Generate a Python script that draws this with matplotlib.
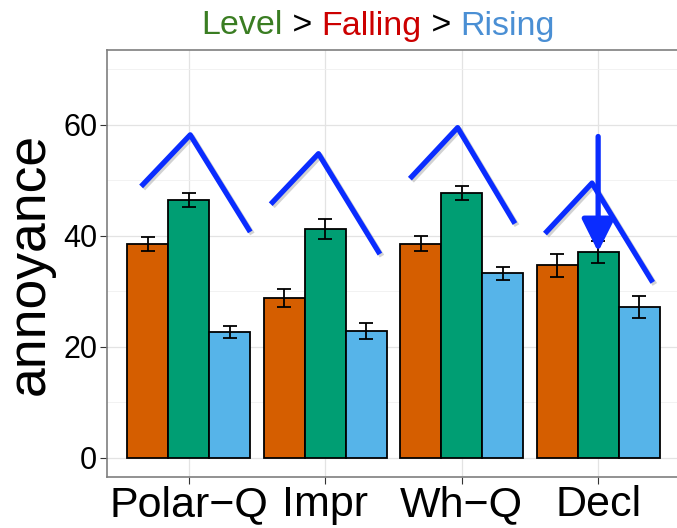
import numpy as np
import matplotlib
matplotlib.use('Agg')
from matplotlib import pyplot as plt
from matplotlib import patheffects as pe

plt.rcParams['font.family'] = ['Liberation Sans', 'DejaVu Sans']

categories = ['Polar\u2212Q', 'Impr', 'Wh\u2212Q', 'Decl']
series = ['Falling', 'Level', 'Rising']
means = {
    'Falling': [38.5, 28.8, 38.6, 34.7],
    'Level': [46.4, 41.3, 47.7, 37.1],
    'Rising': [22.6, 22.8, 33.2, 27.1],
}
errors = {
    'Falling': [1.2, 1.6, 1.35, 2.1],
    'Level': [1.25, 1.8, 1.3, 2.0],
    'Rising': [1.1, 1.4, 1.15, 2.0],
}
colors = {'Falling': '#D55E00', 'Level': '#009E73', 'Rising': '#56B4E9'}

# hand-drawn contour sketches over each group: (x offset, y) for start, peak, end
contour_dx = [[-0.35, 0.01, 0.45], [-0.40, -0.05, 0.40],
              [-0.38, -0.03, 0.39], [-0.39, -0.045, 0.40]]
contour_y = [[48.9, 58.2, 40.7], [45.7, 54.8, 36.7],
             [50.3, 59.5, 42.2], [40.4, 49.5, 31.6]]
arrow_top = 57.9

fig = plt.figure(figsize=(6.77, 5.28), dpi=100)
ax = fig.add_axes([107 / 677, 51 / 528, 573 / 677, 427 / 528])

x = np.arange(len(categories))
width = 0.3
for i, s in enumerate(series):
    pos = x + (i - 1) * width
    ax.bar(pos, means[s], width, color=colors[s], edgecolor='black',
           linewidth=1.3, zorder=3)
    ax.errorbar(pos, means[s], yerr=errors[s], fmt='none', ecolor='black',
                elinewidth=1.3, capsize=5, capthick=1.3, zorder=4)

blue = '#0a2cff'
shadow = [pe.SimpleLineShadow(offset=(1.5, -1.5), shadow_color='gray', alpha=0.35),
          pe.Normal()]
for g in range(len(categories)):
    ax.plot(g + np.array(contour_dx[g]), contour_y[g], color=blue,
            linewidth=3.8, solid_capstyle='butt', zorder=5, path_effects=shadow)

# arrow pointing at the Level bar of the last group
ax.annotate('', xy=(3, means['Level'][3]), xytext=(3, arrow_top),
            arrowprops=dict(arrowstyle='-|>,head_length=2.0,head_width=1.0',
                            color=blue, lw=3.8, shrinkA=0, shrinkB=0,
                            mutation_scale=10),
            zorder=6)

ax.set_xlim(-0.6, 3.6)
ax.set_ylim(-3.5, 73.5)
ax.set_xticks(x)
ax.set_xticklabels(categories, fontsize=31)
ax.set_yticks([0, 20, 40, 60])
ax.set_yticks([10, 30, 50, 70], minor=True)
ax.tick_params(axis='y', labelsize=22, length=5, color='#333333', pad=2)
ax.tick_params(axis='x', length=5, color='#333333', pad=1)
ax.tick_params(which='minor', length=0)
ax.grid(True, which='major', color='#e3e3e3', linewidth=0.9, zorder=0)
ax.grid(True, which='minor', axis='y', color='#f0f0f0', linewidth=0.6, zorder=0)
ax.set_axisbelow(True)
for sp in ax.spines.values():
    sp.set_color('#7f7f7f')
    sp.set_linewidth(1.2)
ax.set_ylabel('annoyance', fontsize=38.5)
ax.yaxis.set_label_coords(-52 / 573, 0.5)

# coloured title words
parts = [('Level', '#3a7d22'), (' > ', 'black'), ('Falling', '#cc0000'),
         (' > ', 'black'), ('Rising', '#4a8fd4')]
fig.canvas.draw()
renderer = fig.canvas.get_renderer()
texts = []
for word, c in parts:
    t = fig.text(0, 1 - 26 / 528, word, color=c, fontsize=24.5, va='center', ha='left')
    texts.append(t)
widths = [t.get_window_extent(renderer).width for t in texts]
xpos = (378 - sum(widths) / 2)
for t, w in zip(texts, widths):
    t.set_x(xpos / 677)
    xpos += w

fig.savefig('out.png', dpi=100)
